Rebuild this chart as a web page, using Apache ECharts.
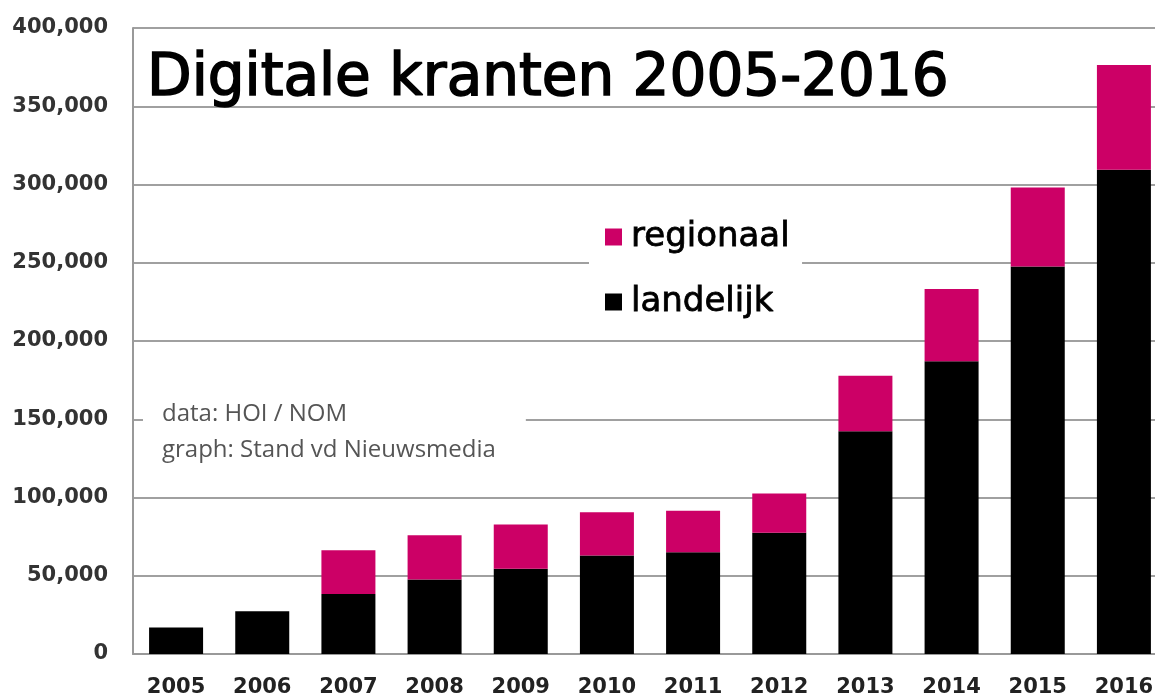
<!DOCTYPE html>
<html>
<head>
<meta charset="utf-8">
<title>Digitale kranten 2005-2016</title>
<script src="https://cdn.jsdelivr.net/npm/echarts@6/dist/echarts.min.js"></script>
<style>
  html, body { margin: 0; padding: 0; background: #fff; }
  #main { width: 1155px; height: 695px; }
</style>
</head>
<body>
<div id="main"></div>
<script>
// jaren (x-as)
const years = ['2005', '2006', '2007', '2008', '2009', '2010', '2011', '2012', '2013', '2014', '2015', '2016'];
// landelijke kranten (onderste deel)
const landelijk = [16900, 27300, 38400, 47600, 54400, 62900, 65000, 77400, 142300, 187000, 247600, 309400];
// regionale kranten (bovenste deel)
const regionaal = [0, 0, 27900, 28300, 28300, 27700, 26600, 25100, 35500, 46200, 50500, 67000];

const chart = echarts.init(document.getElementById('main'));

const option = {
    backgroundColor: '#fff',
    animation: false,
    title: [
        {
            text: 'Digitale kranten 2005-2016',
            left: 147,
            top: 51,
            padding: 0,
            textStyle: {
                fontFamily: 'DejaVu Sans',
                fontSize: 58,
                fontWeight: 'normal',
                color: '#000',
                textBorderColor: '#000',
                textBorderWidth: 1.6
            }
        },
        {
            // bronvermelding met witte achtergrond over de gridlijn
            text: 'data: HOI / NOM\ngraph: Stand vd Nieuwsmedia',
            left: 143,
            top: 394,
            padding: [2, 30, 4, 19],
            backgroundColor: '#fff',
            textStyle: {
                fontFamily: 'Open Sans',
                fontSize: 24,
                fontWeight: 'normal',
                lineHeight: 36,
                color: '#555'
            }
        }
    ],
    legend: {
        orient: 'vertical',
        left: 589,
        top: 206,
        padding: [11, 12, 10, 16],
        backgroundColor: '#fff',
        icon: 'rect',
        itemWidth: 17,
        itemHeight: 17,
        itemGap: 25,
        data: ['regionaal', 'landelijk'],
        textStyle: {
            fontFamily: 'DejaVu Sans',
            fontSize: 34,
            lineHeight: 40,
            padding: [0, 0, 0, 4],
            color: '#000',
            textBorderColor: '#000',
            textBorderWidth: 0.8
        }
    },
    grid: {
        left: 133,
        top: 28,
        width: 1034,
        height: 626,
        outerBoundsMode: 'none'
    },
    xAxis: {
        type: 'category',
        data: years,
        axisLine: { lineStyle: { color: '#999', width: 2 } },
        axisTick: { show: false },
        axisLabel: {
            margin: 23,
            fontFamily: 'DejaVu Sans',
            fontWeight: 'bold',
            fontSize: 21,
            color: '#222'
        }
    },
    yAxis: {
        type: 'value',
        min: 0,
        max: 400000,
        interval: 50000,
        axisLine: { show: true, lineStyle: { color: '#999', width: 2 } },
        axisTick: { show: false },
        splitLine: { lineStyle: { color: '#a0a0a0', width: 2 } },
        axisLabel: {
            margin: 25,
            fontFamily: 'DejaVu Sans',
            fontWeight: 'bold',
            fontSize: 21,
            color: '#333',
            formatter: v => v.toLocaleString('en-US')
        }
    },
    series: [
        {
            name: 'landelijk',
            type: 'bar',
            stack: 'totaal',
            barWidth: 54,
            itemStyle: { color: '#000' },
            data: landelijk
        },
        {
            name: 'regionaal',
            type: 'bar',
            stack: 'totaal',
            barWidth: 54,
            itemStyle: { color: '#cc0066' },
            data: regionaal
        }
    ]
};

chart.setOption(option);
</script>
</body>
</html>
